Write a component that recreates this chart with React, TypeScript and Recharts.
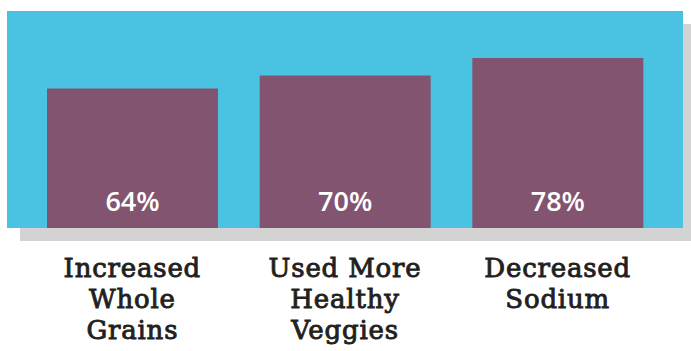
import { BarChart, Bar, XAxis, YAxis, LabelList } from 'recharts';

const categories = ['Increased Whole Grains', 'Used More Healthy Veggies', 'Decreased Sodium'];
const labelLines = [
  ['Increased', 'Whole', 'Grains'],
  ['Used More', 'Healthy', 'Veggies'],
  ['Decreased', 'Sodium'],
];
const percents = [64, 70, 78];

const data = categories.map((name, i) => ({ name, value: percents[i] }));

const BLUE = '#4AC2E2';
const PURPLE = '#835470';
const SHADOW = '#D3D3D3';

function CategoryTick(props: any) {
  const { x, y, index } = props;
  const lines = labelLines[index] || [];
  return (
    <text
      x={x}
      y={y}
      textAnchor="middle"
      fill="#231F20"
      stroke="#231F20"
      strokeWidth={0.9}
      fontFamily="DejaVu Serif"
      fontSize={26}
      letterSpacing={0.8}
    >
      {lines.map((line, i) => (
        <tspan key={i} x={x} dy={i === 0 ? 41 : 31}>
          {line}
        </tspan>
      ))}
    </text>
  );
}

function ValueLabel(props: any) {
  const { x, y, width, height, value } = props;
  return (
    <text
      x={x + width / 2}
      y={y + height - 17}
      textAnchor="middle"
      fill="#FFFFFF"
      fontFamily="Open Sans"
      fontWeight={600}
      fontSize={27}
    >
      {value}%
    </text>
  );
}

export default function App() {
  return (
    <div style={{ position: 'absolute', left: 0, top: 0, width: 691, height: 351, background: '#fff' }}>
      {/* drop shadow + blue panel behind the plot */}
      <div style={{ position: 'absolute', left: 20, top: 24, width: 671, height: 217, background: SHADOW }} />
      <div style={{ position: 'absolute', left: 7, top: 11, width: 676, height: 217, background: BLUE }} />
      <div style={{ position: 'absolute', left: 0, top: 0 }}>
        <BarChart
          width={691}
          height={351}
          data={data}
          margin={{ top: 10, right: 8, left: 7, bottom: 13 }}
          barCategoryGap={21}
        >
          <XAxis
            dataKey="name"
            axisLine={false}
            tickLine={false}
            height={110}
            padding={{ left: 19, right: 19 }}
            interval={0}
            tick={<CategoryTick />}
          />
          <YAxis hide domain={[0, 100]} />
          <Bar dataKey="value" fill={PURPLE} isAnimationActive={false}>
            <LabelList dataKey="value" content={<ValueLabel />} />
          </Bar>
        </BarChart>
      </div>
    </div>
  );
}
